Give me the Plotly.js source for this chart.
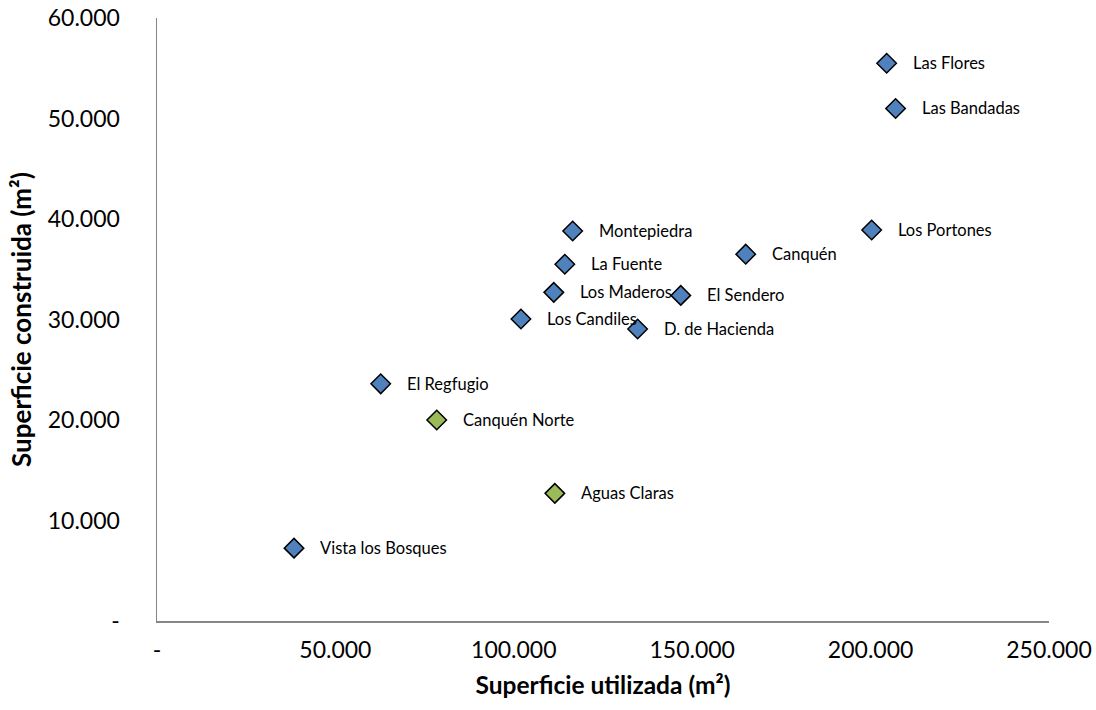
<!DOCTYPE html>
<html>
<head>
<meta charset="utf-8">
<script src="https://cdn.plot.ly/plotly-3.0.1.min.js"></script>
<style>html,body{margin:0;padding:0;background:#fff;}#chart{width:1096px;height:710px;}</style>
</head>
<body>
<div id="chart"></div>
<script>
// Blue series
const blueNames = ["Las Flores","Las Bandadas","Los Portones","Canquén","Montepiedra","La Fuente","Los Maderos","El Sendero","Los Candiles","D. de Hacienda","El Regfugio","Vista los Bosques"];
const blueX = [204500, 207000, 200300, 165000, 116500, 114300, 111200, 146800, 102000, 134700, 62700, 38400];
const blueY = [55500, 51000, 38900, 36500, 38800, 35500, 32700, 32400, 30050, 29050, 23600, 7250];
// Green series
const greenNames = ["Canquén Norte","Aguas Claras"];
const greenX = [78400, 111500];
const greenY = [20000, 12700];
// Tick labels
const xTickVals = [0, 50000, 100000, 150000, 200000, 250000];
const xTickText = ["-", "50.000", "100.000", "150.000", "200.000", "250.000"];
const yTickVals = [0, 10000, 20000, 30000, 40000, 50000, 60000];
const yTickText = ["-", "10.000", "20.000", "30.000", "40.000", "50.000", "60.000"];

const font = "Lato, 'Liberation Sans', sans-serif";
const mk = (c) => ({symbol: "diamond", size: 15, color: c, line: {color: "#000", width: 1.5}});
const traces = [
  {x: blueX, y: blueY, mode: "markers", type: "scatter", marker: mk("#4F81BD"), hoverinfo: "skip"},
  {x: greenX, y: greenY, mode: "markers", type: "scatter", marker: mk("#9BBB59"), hoverinfo: "skip"}
];
const annotations = [];
function addLabels(names, xs, ys) {
  names.forEach((n, i) => annotations.push({
    x: xs[i], y: ys[i], xref: "x", yref: "y", text: n, showarrow: false,
    xanchor: "left", yanchor: "middle", xshift: 24, font: {family: font, size: 16.5, color: "#000"}
  }));
}
addLabels(blueNames, blueX, blueY);
addLabels(greenNames, greenX, greenY);

const layout = {
  width: 1096, height: 710,
  margin: {l: 157, r: 47, t: 18, b: 89, pad: 0},
  paper_bgcolor: "#fff", plot_bgcolor: "#fff",
  showlegend: false,
  font: {family: font, color: "#000"},
  xaxis: {
    range: [0, 250000], tickvals: xTickVals, ticktext: xTickText,
    showgrid: false, zeroline: false, showline: true, linecolor: "#868686", linewidth: 1.5,
    ticks: "", tickfont: {family: font, size: 23, color: "#000"}, ticklabelstandoff: 8,
    title: {text: "<b>Superficie utilizada (m²)</b>", font: {family: font, size: 24.5, color: "#000"}, standoff: 15}
  },
  yaxis: {
    range: [0, 60000], tickvals: yTickVals, ticktext: yTickText,
    showgrid: false, zeroline: false, showline: true, linecolor: "#868686", linewidth: 1.5,
    ticks: "", tickfont: {family: font, size: 23, color: "#000"}, ticklabelstandoff: 31,
    title: {text: "<b>Superficie construida (m²)</b>", font: {family: font, size: 26, color: "#000"}, standoff: 8}
  },
  annotations: annotations
};
Plotly.newPlot("chart", traces, layout, {displayModeBar: false, staticPlot: true});
</script>
</body>
</html>
